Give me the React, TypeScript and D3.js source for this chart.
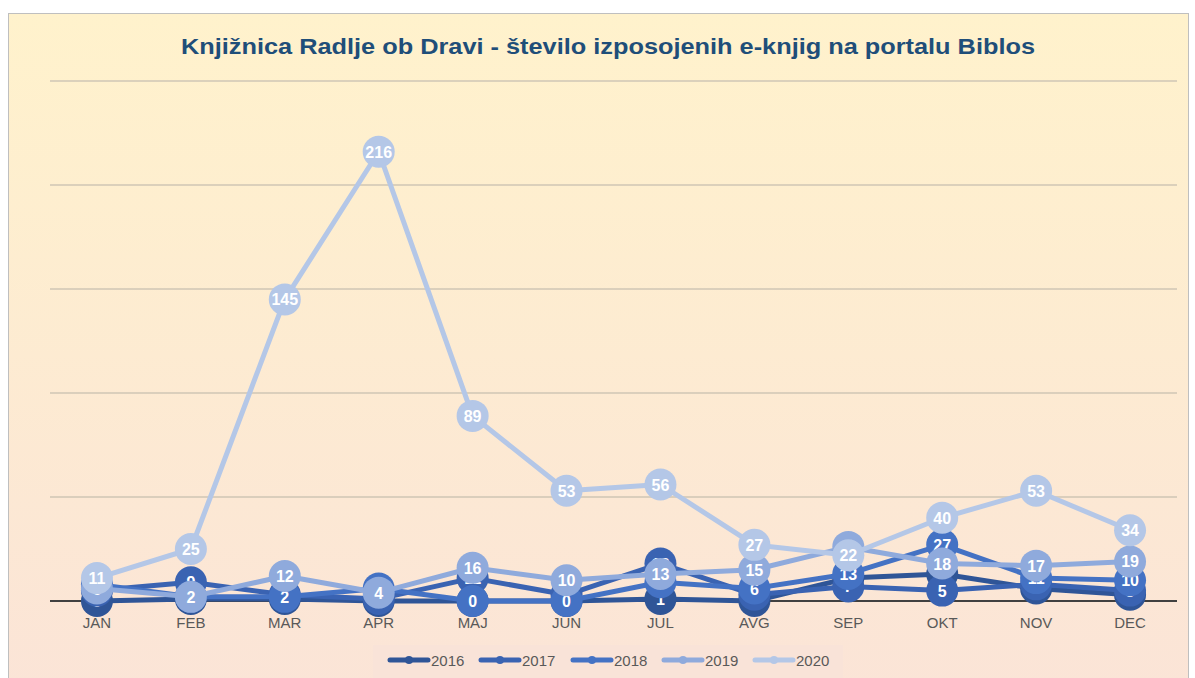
import React from "react";
import * as d3 from "d3";

const months = ["JAN", "FEB", "MAR", "APR", "MAJ", "JUN", "JUL", "AVG", "SEP", "OKT", "NOV", "DEC"];
const years = ["2016", "2017", "2018", "2019", "2020"];
const v2016 = [0, 1, 1, 0, 0, 0, 1, 0, 11, 13, 6, 3];
const v2017 = [5, 9, 3, 1, 11, 3, 18, 3, 7, 5, 8, 5];
const v2018 = [8, 2, 2, 6, 0, 0, 9, 6, 13, 27, 11, 10];
const v2019 = [6, 2, 12, 4, 16, 10, 13, 15, 26, 18, 17, 19];
const v2020 = [11, 25, 145, 216, 89, 53, 56, 27, 22, 40, 53, 34];
const seriesValues = [v2016, v2017, v2018, v2019, v2020];
const colors = ["#2F5597", "#3A63B2", "#4472C4", "#8FAADC", "#B4C7E7"];
const yTicks = [0, 50, 100, 150, 200, 250];
const title = "Knjižnica Radlje ob Dravi - število izposojenih e-knjig na portalu Biblos";

export default function App() {
  const W = 1195, H = 678;
  const x = d3.scaleBand<string>().domain(months).range([50, 1177]);
  const y = d3.scaleLinear().domain([0, 250]).range([601, 81]);
  const cx = (m: string) => (x(m) as number) + x.bandwidth() / 2;
  const line = d3.line<number>().x((_, i) => cx(months[i])).y((d) => y(d));
  const font = "'Liberation Sans', Arial, sans-serif";
  const legendX = [390, 481, 573, 664, 755];

  return (
    <svg width={W} height={H} style={{ position: "absolute", left: 0, top: 0 }}>
      <defs>
        <linearGradient id="bg" x1="0" y1="0" x2="0" y2="1">
          <stop offset="0" stopColor="#FFF2CC" />
          <stop offset="1" stopColor="#FBE4D7" />
        </linearGradient>
      </defs>
      <rect x={0} y={0} width={W} height={H} fill="#ffffff" />
      <rect x={8.5} y={13.5} width={1180} height={680} fill="url(#bg)" stroke="#BFBFBF" strokeWidth={1} />
      <text x={608} y={54} textAnchor="middle" fontFamily={font} fontWeight="bold" fontSize={22}
        fill="#1F4E79" textLength={854} lengthAdjust="spacingAndGlyphs">{title}</text>
      {yTicks.filter((t) => t > 0).map((t) => (
        <line key={t} x1={50} x2={1177} y1={y(t)} y2={y(t)} stroke="#CFC6B4" strokeWidth={1.3} />
      ))}
      <line x1={50} x2={1177} y1={y(0)} y2={y(0)} stroke="#404040" strokeWidth={2} />
      {months.map((m) => (
        <text key={m} x={cx(m)} y={628} textAnchor="middle" fontFamily={font} fontSize={15} fill="#595959">{m}</text>
      ))}
      {seriesValues.map((vals, si) => (
        <g key={years[si]}>
          <path d={line(vals) as string} fill="none" stroke={colors[si]} strokeWidth={5} strokeLinejoin="round" strokeLinecap="round" />
          {vals.map((v, i) => (
            <circle key={i} cx={cx(months[i])} cy={y(v)} r={16} fill={colors[si]} />
          ))}
          {vals.map((v, i) => (
            <text key={"t" + i} x={cx(months[i])} y={y(v) + 6} textAnchor="middle" fontFamily={font}
              fontSize={16} fontWeight="bold" fill="#ffffff">{v}</text>
          ))}
        </g>
      ))}
      <rect x={373} y={645} width={470} height={40} fill="#F9E3D8" />
      {years.map((yr, i) => (
        <g key={yr}>
          <line x1={legendX[i]} x2={legendX[i] + 38} y1={660} y2={660} stroke={colors[i]} strokeWidth={5} strokeLinecap="round" />
          <circle cx={legendX[i] + 19} cy={660} r={4} fill={colors[i]} />
          <text x={legendX[i] + 41} y={665.5} fontFamily={font} fontSize={15} fill="#595959">{yr}</text>
        </g>
      ))}
    </svg>
  );
}
